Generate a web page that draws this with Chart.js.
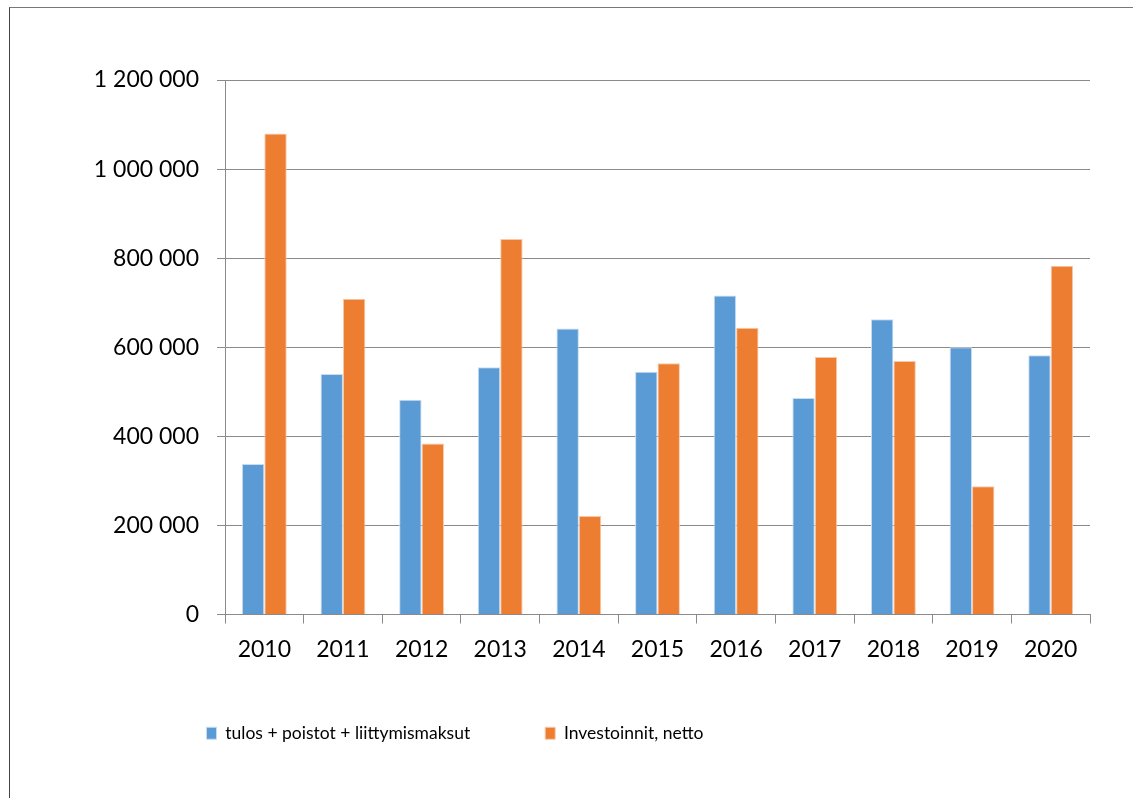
<!DOCTYPE html>
<html>
<head>
<meta charset="utf-8">
<script src="https://cdn.jsdelivr.net/npm/chart.js@4"></script>
<style>
  html, body { margin: 0; padding: 0; background: #fff; overflow: hidden; }
  #frame {
    position: absolute; left: 9px; top: 7px; width: 1140px; height: 810px;
    border-left: 1px solid #444; border-top: 1px solid #777;
  }
  #wrap { position: absolute; left: 0; top: 0; width: 1133px; height: 798px; }
</style>
</head>
<body>
<div id="frame"></div>
<div id="wrap"><canvas id="chart" width="1133" height="798"></canvas></div>
<script>
const years = ['2010', '2011', '2012', '2013', '2014', '2015', '2016', '2017', '2018', '2019', '2020'];
const tulos = [338000, 540000, 482000, 555000, 642000, 545000, 716000, 486000, 663000, 600000, 582000];
const investoinnit = [1080000, 709000, 384000, 843000, 221000, 564000, 644000, 578000, 569000, 288000, 783000];
const yTicks = [0, 200000, 400000, 600000, 800000, 1000000, 1200000];

const fontFamily = 'Lato, "Open Sans", sans-serif';
const gridColor = '#8a8a8a';

function formatNumber(value) {
    return String(value).replace(/\B(?=(\d{3})+(?!\d))/g, ' ');
}

// the legend in the original sits left of the centre and a bit higher, move it over
const legendShift = {
    id: 'legendShift',
    afterLayout(chart) {
        const lg = chart.legend;
        if (lg) {
            lg.left -= 90;
            lg.right -= 90;
            lg.top -= 25;
            lg.bottom -= 25;
        }
    }
};

const ctx = document.getElementById('chart');
new Chart(ctx, {
    type: 'bar',
    data: {
        labels: years,
        datasets: [{
            label: 'tulos + poistot + liittymismaksut',
            data: tulos,
            backgroundColor: '#5B9BD5',
            borderColor: '#c9dcf0',
            borderWidth: 1,
            categoryPercentage: 0.57,
            barPercentage: 1.0
        }, {
            label: 'Investoinnit, netto',
            data: investoinnit,
            backgroundColor: '#ED7D31',
            borderColor: '#f7c9ab',
            borderWidth: 1,
            categoryPercentage: 0.57,
            barPercentage: 1.0
        }]
    },
    plugins: [legendShift],
    options: {
        responsive: false,
        animation: false,
        layout: {
            padding: { left: 0, right: 43, top: 80, bottom: 21 }
        },
        plugins: {
            tooltip: { enabled: false },
            legend: {
                position: 'bottom',
                labels: {
                    boxWidth: 10,
                    boxHeight: 12,
                    padding: 75,
                    color: '#000',
                    font: { family: fontFamily, size: 17.5 }
                }
            }
        },
        scales: {
            x: {
                grid: {
                    offset: true,
                    drawOnChartArea: false,
                    drawTicks: true,
                    tickLength: 9,
                    color: gridColor
                },
                border: { color: gridColor, width: 1 },
                ticks: {
                    color: '#000',
                    padding: 12,
                    font: { family: fontFamily, size: 23 }
                },
                afterFit: function(scale) {
                    scale.height = 60;
                }
            },
            y: {
                min: 0,
                max: 1200000,
                afterBuildTicks: function(scale) {
                    scale.ticks = yTicks.map(v => ({ value: v }));
                },
                grid: {
                    color: gridColor,
                    tickLength: 8
                },
                border: { color: gridColor, width: 1 },
                ticks: {
                    color: '#000',
                    padding: 18,
                    font: { family: fontFamily, size: 23 },
                    callback: function(value) {
                        return formatNumber(value);
                    }
                },
                afterFit: function(scale) {
                    scale.width = 225;
                }
            }
        }
    }
});
</script>
</body>
</html>
